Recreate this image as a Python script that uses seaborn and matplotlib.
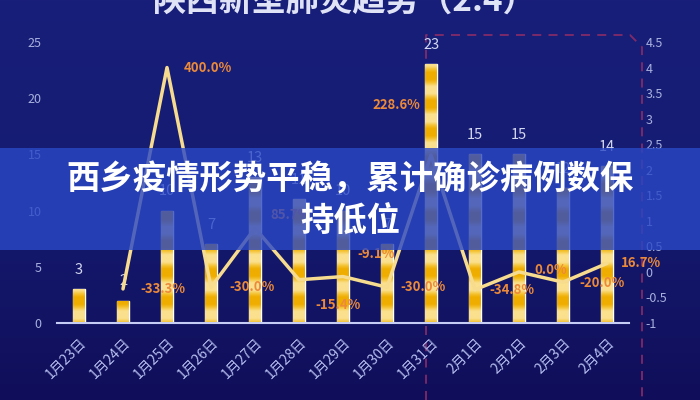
import numpy as np
import pandas as pd
import matplotlib
matplotlib.use('Agg')
import matplotlib.pyplot as plt
from matplotlib.colors import LinearSegmentedColormap
from matplotlib.patches import Rectangle
from matplotlib.lines import Line2D
import seaborn as sns

sns.set_style('white')
plt.rcParams['font.family'] = ['Noto Sans CJK SC', 'DejaVu Sans']
plt.rcParams['axes.unicode_minus'] = False

# data
dates = ['1月23日', '1月24日', '1月25日', '1月26日', '1月27日', '1月28日', '1月29日',
         '1月30日', '1月31日', '2月1日', '2月2日', '2月3日', '2月4日']
cases = [3, 2, 10, 7, 13, 11, 10, 7, 23, 15, 15, 12, 14]
growth = [np.nan, -0.333, 4.0, -0.3, 0.857, -0.154, -0.091, -0.3, 2.286, -0.348, 0.0, -0.2, 0.167]

title = '陕西新型肺炎趋势（2.4）'
banner = ['西乡疫情形势平稳，累计确诊病例数保', '持低位']

# label offsets (pixels) for the growth-rate labels
lab_off = [None, (17, 0), (17, 0), (18, 0), (15, 13), (16, -25), (14, 23),
           (13, 0), (-11, 50), (14, 0), (15, 2), (16, -1), (14, 0)]

df = pd.DataFrame({'date': dates, 'cases': cases, 'growth': growth})
df['idx'] = np.arange(len(df))

fig = plt.figure(figsize=(7, 4), dpi=100)
fig.patch.set_facecolor('#13186c')

# background gradient
bg = fig.add_axes([0, 0, 1, 1], zorder=-5)
grad = np.linspace(0, 1, 256)[:, None]
bg_cmap = LinearSegmentedColormap.from_list('bg', ['#100e5a', '#151b70', '#181f7a'])
bg.imshow(grad, aspect='auto', cmap=bg_cmap, origin='lower', extent=[0, 1, 0, 1])
bg.axis('off')

ax = fig.add_axes([57 / 700, 1 - 323 / 400, 572 / 700, 281 / 400], zorder=0)
ax.patch.set_alpha(0)

sns.barplot(data=df, x='date', y='cases', ax=ax, color='#f2b705', width=0.27,
            saturation=1, order=dates)

# striped fill inside the bars
stripe_cmap = LinearSegmentedColormap.from_list('st', ['#efad00', '#f5c53a', '#fbe08e'])
for p in ax.patches:
    x0, w, h = p.get_x(), p.get_width(), p.get_height()
    ys = np.linspace(0, h, 300)
    vals = 0.5 + 0.5 * np.clip(1.4 * np.sin(2 * np.pi * (ys - 0.1) / 2.5), -1, 1)
    im = ax.imshow(vals[:, None], extent=[x0, x0 + w, 0, h], origin='lower',
                   cmap=stripe_cmap, vmin=0, vmax=1, aspect='auto', zorder=2)
    im.set_clip_path(p)

for i, v in enumerate(cases):
    ax.text(i, v + 1.7, str(v), ha='center', va='center', fontsize=10.5,
            color='#d3d7f0', zorder=3)

ax.set_xlim(-0.5, len(dates) - 0.5)
ax.set_ylim(0, 25)
ax.set_yticks(range(0, 26, 5))
ax.set_xticks(range(len(dates)))
ax.set_xticklabels(dates, rotation=45, ha='right', rotation_mode='anchor')
ax.set_xticks(np.arange(-0.5, len(dates), 1), minor=True)
ax.tick_params(axis='x', which='major', length=0, pad=9, labelsize=10, labelcolor='#b7bff0')
ax.tick_params(axis='x', which='minor', length=4, width=1.3, color='#c5ccf5', direction='out')
ax.tick_params(axis='y', length=0, pad=11, labelsize=9, labelcolor='#a9b1df')
ax.set_xlabel('')
ax.set_ylabel('')
for s in ['top', 'left', 'right']:
    ax.spines[s].set_visible(False)
ax.spines['bottom'].set_color('#c5ccf5')
ax.spines['bottom'].set_linewidth(1.5)

# growth rate on the right axis
ax2 = ax.twinx()
sns.lineplot(data=df, x='idx', y='growth', ax=ax2, color='#f7dc8f', lw=2.5, zorder=4)
ax2.set_ylim(-1, 4.5)
ticks2 = np.arange(-1, 4.51, 0.5)
ax2.set_yticks(ticks2)
ax2.set_yticklabels(['{:g}'.format(t) for t in ticks2])
ax2.tick_params(axis='y', length=0, pad=12, labelsize=9, labelcolor='#a9b1df')
ax2.set_ylabel('')
for s in ax2.spines.values():
    s.set_visible(False)
ax2.set_xlim(-0.5, len(dates) - 0.5)

for i, g in enumerate(growth):
    if np.isnan(g):
        continue
    dx, dy = lab_off[i]
    ax2.annotate('{:.1f}%'.format(g * 100), (i, g), xytext=(dx, dy),
                 textcoords='offset pixels', ha='left' if dx > 0 else 'right',
                 va='center', fontsize=9.5, color='#ec8a3a', weight='bold', zorder=5)

# decorative dashed frame
fig.add_artist(Line2D([426 / 700, 426 / 700, 630 / 700, 642 / 700, 642 / 700],
                      [0, 1 - 35 / 400, 1 - 35 / 400, 1 - 47 / 400, 0],
                      color='#8e2c66', lw=1.3, ls=(0, (5, 4)), alpha=0.9, zorder=-1))

fig.text(345 / 700, 1 - 1 / 400, title, ha='center', va='center', fontsize=24,
         color='#dfe3f5', weight='bold')

# banner overlay
fig.add_artist(Rectangle((0, 1 - 250 / 400), 1, 102 / 400, transform=fig.transFigure,
                         facecolor='#2a48c6', alpha=0.8, edgecolor='none', zorder=10))
fig.text(0.5, 1 - 180 / 400, banner[0], ha='center', va='center', fontsize=24,
         color='white', weight='bold', zorder=11)
fig.text(0.5, 1 - 222 / 400, banner[1], ha='center', va='center', fontsize=24,
         color='white', weight='bold', zorder=11)

fig.savefig('out.png', dpi=100, facecolor=fig.get_facecolor())
